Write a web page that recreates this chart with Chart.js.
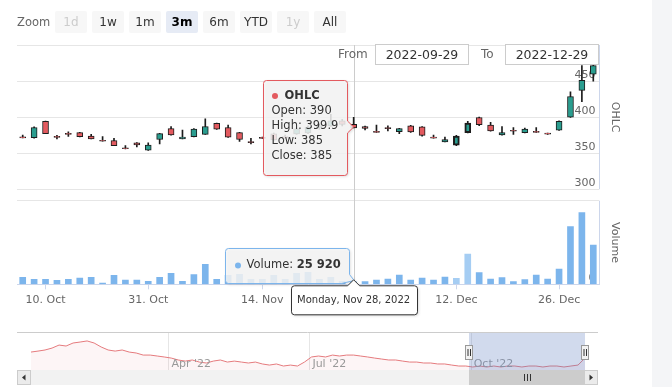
<!DOCTYPE html>
<html>
<head>
<meta charset="utf-8">
<script src="https://cdn.jsdelivr.net/npm/chart.js@4.4.1/dist/chart.umd.min.js"></script>
<style>
  body { margin: 0; background: #f4f5f7; }
  #wrap { position: relative; width: 652px; height: 387px; background: #fff; overflow: hidden; font-family: 'DejaVu Sans', Verdana, sans-serif; }
  #main { position: absolute; left: 0; top: 0; }
  #nav { position: absolute; left: 0; top: 326px; }
  .zlbl { position: absolute; left: 17px; top: 13px; font-size: 11.5px; color: #666; line-height: 18px; }
  .rbtn { position: absolute; top: 11px; width: 32px; height: 22px; line-height: 22px; text-align: center; font-size: 12px; color: #333; background: #f7f7f7; border-radius: 2px; }
  .rbtn.dis { color: #ccc; }
  .rbtn.sel { background: #e6ebf5; font-weight: bold; color: #000; }
  .dlbl { position: absolute; top: 44px; font-size: 12px; color: #666; line-height: 20px; }
  .dbox { position: absolute; top: 44px; width: 92px; height: 19px; border: 1px solid #ccc; font-size: 12.5px; color: #333; line-height: 19px; text-align: center; background: #fff; }
</style>
</head>
<body>
<div id="wrap">
  <canvas id="main" width="652" height="320"></canvas>
  <canvas id="nav" width="652" height="61"></canvas>
  <div id="rs"></div>
</div>
<script>
// candles shown in the 3m window
const dates = ['2022-09-29','2022-10-05','2022-10-10','2022-10-12','2022-10-13','2022-10-17','2022-10-19','2022-10-21','2022-10-24','2022-10-26',
  '2022-10-28','2022-10-31','2022-11-01','2022-11-02','2022-11-03','2022-11-04','2022-11-07','2022-11-08','2022-11-09','2022-11-10',
  '2022-11-11','2022-11-14','2022-11-15','2022-11-16','2022-11-17','2022-11-18','2022-11-21','2022-11-22','2022-11-23','2022-11-28',
  '2022-11-29','2022-11-30','2022-12-01','2022-12-02','2022-12-05','2022-12-06','2022-12-07','2022-12-09','2022-12-12','2022-12-13',
  '2022-12-14','2022-12-15','2022-12-16','2022-12-19','2022-12-20','2022-12-21','2022-12-22','2022-12-26','2022-12-27','2022-12-28','2022-12-29'];
const opens  = [372.6,371.4,394.3,373.4,377.6,378.6,373.8,368.0,367.6,357.6, 364.3,354.3,369.0,384.3,370.0,372.9,376.2,391.4,385.7,378.6,
  366.2,372.0,376.9,373.0,376.9,378.2,385.0,388.0,395.0,390, 387.1,380.4,385.6,380.0,388.1,386.7,372.4,365.7,361.0,378.6,
  399.5,389.0,375.2,381.9,378.6,380.4,377.8,381.9,400.0,437.1,459.5];
const highs  = [375.2,386.5,394.5,374.8,379.5,379.0,376.2,372.9,370.5,360.5, 364.8,364.3,377.5,387.1,382.0,384.0,397.6,391.8,389.0,379.0,
  370.5,372.4,378.0,375.0,385.0,388.0,390.0,404.0,397.0,399.9, 387.5,389.0,388.0,384.5,388.5,387.0,375.2,372.4,374.8,394.3,
  400.0,392.9,387.1,385.7,385.0,385.7,377.8,395.0,435.0,471.4,476.2];
const lows   = [371.2,371.0,377.0,370.0,373.3,372.5,369.8,366.6,360.3,356.0, 358.6,354.0,362.9,375.0,369.8,372.5,376.0,383.0,372.0,366.2,
  362.9,370.4,368.0,370.0,376.0,377.0,383.0,387.0,388.0,385, 382.4,378.9,381.0,377.1,379.0,373.8,370.8,365.5,360.5,378.0,
  388.1,380.5,375.0,376.2,378.0,378.9,376.0,381.5,399.5,421.4,450.0];
const closes = [371.2,385.7,377.1,372.0,376.2,372.9,370.0,366.6,360.5,356.2, 361.4,361.4,377.1,375.2,372.4,383.3,387.1,383.3,372.4,369.0,
  364.8,370.6,368.5,371.6,383.8,386.1,388.0,395.0,390.0,385, 384.3,379.0,384.2,384.3,379.5,374.8,371.0,369.0,373.8,391.9,
  389.5,381.0,378.6,380.5,383.3,379.0,376.4,394.3,428.6,451.0,471.4];
const volumes = [70000,50000,50000,40000,50000,63000,70000,13000,90000,43000, 43000,30000,70000,110000,30000,97000,200000,50000,90000,100000,
  50000,50000,90000,50000,110000,120000,50000,70000,30000,25920, 27000,43000,53000,93000,43000,63000,43000,73000,60000,303000,
  117000,53000,67000,27000,47000,93000,53000,153000,577000,717000,393000];

const xTickIdx = [2, 11, 21, 38, 47];
const priceTicks = [300, 350, 400, 450, 500];
const priceMin = 284.2;          // leaves the gap between the two panes
const volMax = 836000;
const volTicks = [0, volMax];
const hoverIdx = 29;
const selectedIdx = [38, 39];

// navigator: whole year, compressed
const navValues = [481,488,496,510,532,525,547,554,562,547, 518,496,488,496,481,474,459,459,452,445,
  437,423,415,423,408,401,415,423,408,415, 408,401,408,394,386,394,379,386,379,408,
  445,452,445,459,452,459,459,452,445,437, 430,423,423,415,408,408,401,401,394,394,
  386,379,379,372,379,372,379,372,379,379, 372,379,379,372,379,379,372,379,386,437];
const navTickPos = [19.6, 39.7, 62.7];
const navTickLabels = ["Apr '22", "Jul '22", "Oct '22"];
const navRange = [62.4, 79];

const rangeButtons = ['1d', '1w', '1m', '3m', '6m', 'YTD', '1y', 'All'];
const disabledButtons = ['1d', '1y'];
const activeButton = '3m';
const fromDate = '2022-09-29', toDate = '2022-12-29';

const FONT = "'DejaVu Sans', Verdana, sans-serif";
const UP = '#2a9d8f', DOWN = '#e35a5f', EDGE = '#1c1c1c';
const VOL = '#7cb5ec', VOL_SEL = '#a5cdf3';

// range selector + date inputs
const rs = document.getElementById('rs');
rs.innerHTML = '<div class="zlbl">Zoom</div>' + rangeButtons.map((b, k) => {
  let cls = 'rbtn' + (disabledButtons.includes(b) ? ' dis' : '') + (b === activeButton ? ' sel' : '');
  return `<div class="${cls}" style="left:${55 + 37 * k}px">${b}</div>`;
}).join('') +
  `<div class="dlbl" style="left:338px">From</div><div class="dbox" style="left:375px">${fromDate}</div>` +
  `<div class="dlbl" style="left:481px">To</div><div class="dbox" style="left:505px">${toDate}</div>`;

const asDate = d => new Date(d + 'T00:00:00');
const fmtTick = d => asDate(d).getDate() + '. ' + asDate(d).toLocaleString('en-US', { month: 'short' });
const fmtLong = d => asDate(d).toLocaleDateString('en-US', { weekday: 'long', month: 'short', day: 'numeric', year: 'numeric' });
const fmtNum = v => String(v).replace(/\B(?=(\d{3})+(?!\d))/g, ' ');

function shadowOn(ctx) {
  ctx.shadowColor = 'rgba(0,0,0,0.18)'; ctx.shadowBlur = 3; ctx.shadowOffsetX = 1; ctx.shadowOffsetY = 1;
}

const paneDecor = {
  id: 'paneDecor',
  beforeDatasetsDraw(chart) {
    const { ctx, chartArea, scales: { x, price, vol } } = chart;
    const cx = Math.round(x.getPixelForValue(hoverIdx)) + 0.5;
    const rx = Math.round(chartArea.right) + 0.5;
    ctx.save();
    ctx.lineWidth = 1;
    ctx.strokeStyle = '#cccccc';
    ctx.beginPath(); ctx.moveTo(cx, chartArea.top); ctx.lineTo(cx, chartArea.bottom); ctx.stroke();
    ctx.strokeStyle = '#ccd6eb';
    ctx.beginPath();
    ctx.moveTo(rx, price.getPixelForValue(500)); ctx.lineTo(rx, price.getPixelForValue(300));
    ctx.moveTo(rx, vol.getPixelForValue(volMax)); ctx.lineTo(rx, vol.getPixelForValue(0));
    ctx.stroke();
    ctx.restore();
  },
  afterDraw(chart) {
    const { ctx, chartArea, scales: { x, price, vol } } = chart;
    const px = x.getPixelForValue(hoverIdx);
    ctx.save();

    // pane titles
    ctx.fillStyle = '#666'; ctx.font = '11px ' + FONT; ctx.textAlign = 'center'; ctx.textBaseline = 'middle';
    [['OHLC', (price.getPixelForValue(500) + price.getPixelForValue(300)) / 2],
     ['Volume', (vol.getPixelForValue(volMax) + vol.getPixelForValue(0)) / 2]].forEach(([t, yc]) => {
      ctx.save(); ctx.translate(chartArea.right + 16, yc); ctx.rotate(Math.PI / 2); ctx.fillText(t, 0, 0); ctx.restore();
    });

    // OHLC tooltip
    let L = Math.round(px - 91) + 0.5, R = Math.round(px - 7) + 0.5, T = 80.5, B = 175.5, r = 3, ty = 127;
    ctx.beginPath();
    ctx.moveTo(L + r, T); ctx.lineTo(R - r, T); ctx.arcTo(R, T, R, T + r, r);
    ctx.lineTo(R, ty - 6); ctx.lineTo(px, ty); ctx.lineTo(R, ty + 6);
    ctx.lineTo(R, B - r); ctx.arcTo(R, B, R - r, B, r); ctx.lineTo(L + r, B); ctx.arcTo(L, B, L, B - r, r);
    ctx.lineTo(L, T + r); ctx.arcTo(L, T, L + r, T, r); ctx.closePath();
    ctx.save(); shadowOn(ctx); ctx.fillStyle = 'rgba(247,247,247,0.85)'; ctx.fill(); ctx.restore();
    ctx.strokeStyle = DOWN; ctx.lineWidth = 1; ctx.stroke();
    ctx.textAlign = 'left'; ctx.textBaseline = 'middle';
    ctx.fillStyle = DOWN; ctx.beginPath(); ctx.arc(L + 11.5, T + 15.5, 3, 0, Math.PI * 2); ctx.fill();
    ctx.fillStyle = '#333'; ctx.font = 'bold 11.5px ' + FONT; ctx.fillText('OHLC', L + 21, T + 15.5);
    ctx.font = '11.5px ' + FONT;
    [['Open', opens], ['High', highs], ['Low', lows], ['Close', closes]].forEach(([n, arr], k) => {
      ctx.fillText(`${n}: ${arr[hoverIdx]}`, L + 8, T + 31 + 15 * k);
    });

    // Volume tooltip
    L = Math.round(px - 129) + 0.5; R = Math.round(px - 5) + 0.5; T = 248.5; B = 283.5;
    ctx.beginPath();
    ctx.moveTo(L + r, T); ctx.lineTo(R - r, T); ctx.arcTo(R, T, R, T + r, r);
    ctx.lineTo(R, B - 9); ctx.lineTo(px + 0.5, B - 3); ctx.lineTo(R - 8, B);
    ctx.lineTo(L + r, B); ctx.arcTo(L, B, L, B - r, r);
    ctx.lineTo(L, T + r); ctx.arcTo(L, T, L + r, T, r); ctx.closePath();
    ctx.save(); shadowOn(ctx); ctx.fillStyle = 'rgba(247,247,247,0.85)'; ctx.fill(); ctx.restore();
    ctx.strokeStyle = VOL; ctx.stroke();
    ctx.fillStyle = VOL; ctx.beginPath(); ctx.arc(L + 12.5, T + 17, 3, 0, Math.PI * 2); ctx.fill();
    ctx.fillStyle = '#333'; ctx.font = '11.5px ' + FONT;
    ctx.fillText('Volume: ', L + 21, T + 17);
    const w = ctx.measureText('Volume: ').width;
    ctx.font = 'bold 11.5px ' + FONT; ctx.fillText(fmtNum(volumes[hoverIdx]), L + 21 + w, T + 17);

    // crosshair date label
    L = Math.round(px - 63) + 0.5; R = Math.round(px + 63) + 0.5; T = chartArea.bottom + 1.5; B = T + 29;
    ctx.beginPath();
    ctx.moveTo(L + r, T); ctx.lineTo(px - 6, T); ctx.lineTo(px, T - 6); ctx.lineTo(px + 6, T);
    ctx.lineTo(R - r, T); ctx.arcTo(R, T, R, T + r, r); ctx.lineTo(R, B - r); ctx.arcTo(R, B, R - r, B, r);
    ctx.lineTo(L + r, B); ctx.arcTo(L, B, L, B - r, r); ctx.lineTo(L, T + r); ctx.arcTo(L, T, L + r, T, r); ctx.closePath();
    ctx.save(); shadowOn(ctx); ctx.fillStyle = '#fff'; ctx.fill(); ctx.restore();
    ctx.strokeStyle = '#333'; ctx.stroke();
    ctx.fillStyle = '#333'; ctx.font = '10px ' + FONT; ctx.textAlign = 'center';
    ctx.fillText(fmtLong(dates[hoverIdx]), px, (T + B) / 2);
    ctx.restore();
  }
};

new Chart(document.getElementById('main'), {
  type: 'bar',
  data: {
    labels: dates,
    datasets: [
      { label: 'OHLC', data: opens.map((o, i) => [o, closes[i]]), yAxisID: 'price', order: 1, grouped: false, barThickness: 6,
        backgroundColor: opens.map((o, i) => closes[i] >= o ? UP : DOWN), borderColor: EDGE,
        borderWidth: dates.map((d, i) => selectedIdx.includes(i) ? 2 : 1), borderSkipped: false },
      { label: 'wick', data: lows.map((l, i) => [l, highs[i]]), yAxisID: 'price', order: 2, grouped: false, barThickness: 1,
        backgroundColor: EDGE },
      { label: 'Volume', data: volumes, yAxisID: 'vol', order: 3, grouped: false, barThickness: 6,
        backgroundColor: dates.map((d, i) => selectedIdx.includes(i) ? VOL_SEL : VOL) }
    ]
  },
  options: {
    responsive: false, animation: false, events: [], devicePixelRatio: 1,
    layout: { padding: { left: 17, right: 53, top: 45, bottom: 9.5 } },
    plugins: { legend: { display: false }, tooltip: { enabled: false } },
    scales: {
      x: {
        offset: true,
        grid: { offset: false, drawOnChartArea: false, tickLength: 5,
          color: c => xTickIdx.includes(c.index) ? '#ccd6eb' : 'rgba(0,0,0,0)' },
        border: { color: '#ccd6eb' },
        ticks: { autoSkip: false, maxRotation: 0, padding: 4, color: '#666', font: { family: FONT, size: 11 },
          callback: (v, i) => xTickIdx.includes(i) ? fmtTick(dates[i]) : '' }
      },
      price: {
        position: 'right', stack: 'panes', stackWeight: 155.7, min: priceMin, max: 500,
        afterBuildTicks: s => { s.ticks = priceTicks.map(v => ({ value: v })); },
        grid: { color: '#e6e6e6', drawTicks: false },
        border: { display: false },
        ticks: { mirror: true, padding: 0, labelOffset: -6, color: '#666', font: { family: FONT, size: 11 },
          callback: v => v === 500 ? '' : v + ' ' }
      },
      vol: {
        position: 'right', stack: 'panes', stackWeight: 83.6, min: 0, max: volMax,
        afterBuildTicks: s => { s.ticks = volTicks.map(v => ({ value: v })); },
        grid: { color: c => (c.tick && c.tick.value === 0) ? 'rgba(0,0,0,0)' : '#e6e6e6', drawTicks: false },
        border: { display: false },
        ticks: { mirror: true, padding: 0, labelOffset: -6, color: '#666', font: { family: FONT, size: 11 },
          callback: v => v === 0 ? '0 ' : '' }
      }
    }
  },
  plugins: [paneDecor]
});

const navDecor = {
  id: 'navDecor',
  beforeDatasetsDraw(chart) {
    const { ctx, chartArea, scales: { x } } = chart;
    ctx.save(); ctx.strokeStyle = '#e6e6e6'; ctx.lineWidth = 1; ctx.beginPath();
    navTickPos.forEach(p => { const gx = Math.round(x.getPixelForValue(p)) + 0.5; ctx.moveTo(gx, chartArea.top); ctx.lineTo(gx, chartArea.bottom); });
    ctx.stroke(); ctx.restore();
  },
  afterDatasetsDraw(chart) {
    const { ctx, chartArea, scales: { x } } = chart;
    const top = chartArea.top, bot = chartArea.bottom;
    const left = chartArea.left - 14, right = chartArea.right + 13;
    ctx.save();
    ctx.fillStyle = '#999'; ctx.font = '11px ' + FONT; ctx.textBaseline = 'middle'; ctx.textAlign = 'left';
    navTickPos.forEach((p, k) => ctx.fillText(navTickLabels[k], x.getPixelForValue(p) + 3, bot - 6));
    // selected range mask
    const mL = Math.round(x.getPixelForValue(navRange[0])), mR = Math.round(x.getPixelForValue(navRange[1]));
    ctx.fillStyle = 'rgba(102,133,194,0.3)'; ctx.fillRect(mL, top - 1, mR - mL, bot - top + 1);
    // outline
    ctx.strokeStyle = '#cccccc'; ctx.lineWidth = 1;
    ctx.beginPath(); ctx.moveTo(left, top - 0.5); ctx.lineTo(right, top - 0.5); ctx.stroke();
    // handles
    [mL, mR].forEach(hx => {
      const hy = Math.round((top + bot) / 2) - 7;
      ctx.fillStyle = '#f2f2f2'; ctx.fillRect(hx - 3.5, hy, 7, 15);
      ctx.strokeStyle = '#999'; ctx.strokeRect(hx - 3.5, hy + 0.5, 7, 14);
      ctx.strokeStyle = '#333'; ctx.beginPath();
      ctx.moveTo(hx - 1, hy + 4); ctx.lineTo(hx - 1, hy + 11); ctx.moveTo(hx + 1.5, hy + 4); ctx.lineTo(hx + 1.5, hy + 11); ctx.stroke();
    });
    // scrollbar
    const sy = bot, sh = 15;
    ctx.fillStyle = '#f2f2f2'; ctx.fillRect(left, sy, right - left, sh);
    ctx.fillStyle = '#cccccc'; ctx.fillRect(mL, sy, mR - mL, sh);
    ctx.strokeStyle = '#333'; ctx.beginPath();
    const cx = Math.round((mL + mR) / 2) + 0.5;
    [-3, 0, 3].forEach(d => { ctx.moveTo(cx + d, sy + 4); ctx.lineTo(cx + d, sy + 11); });
    ctx.stroke();
    [[left, -1], [right - 14, 1]].forEach(([bx, dir]) => {
      ctx.fillStyle = '#ebebeb'; ctx.fillRect(bx, sy, 14, sh);
      ctx.strokeStyle = '#cccccc'; ctx.strokeRect(bx + 0.5, sy + 0.5, 13, sh - 1);
      ctx.fillStyle = '#333'; ctx.beginPath();
      const ax = bx + 7, ay = sy + 7.5;
      ctx.moveTo(ax + 2 * dir, ay); ctx.lineTo(ax - 1.5 * dir, ay - 3); ctx.lineTo(ax - 1.5 * dir, ay + 3); ctx.closePath(); ctx.fill();
    });
    ctx.restore();
  }
};

new Chart(document.getElementById('nav'), {
  type: 'line',
  data: { datasets: [{ data: navValues.map((v, i) => ({ x: i, y: v })), borderColor: '#e57a7d', borderWidth: 1,
    pointRadius: 0, fill: 'start', backgroundColor: 'rgba(229,90,95,0.06)', tension: 0 }] },
  options: {
    responsive: false, animation: false, events: [], devicePixelRatio: 1,
    layout: { padding: { left: 31, right: 67, top: 7, bottom: 17 } },
    plugins: { legend: { display: false }, tooltip: { enabled: false } },
    scales: { x: { type: 'linear', display: false, min: 0, max: navValues.length - 1 }, y: { display: false, min: 350, max: 620 } }
  },
  plugins: [navDecor]
});
</script>
</body>
</html>
